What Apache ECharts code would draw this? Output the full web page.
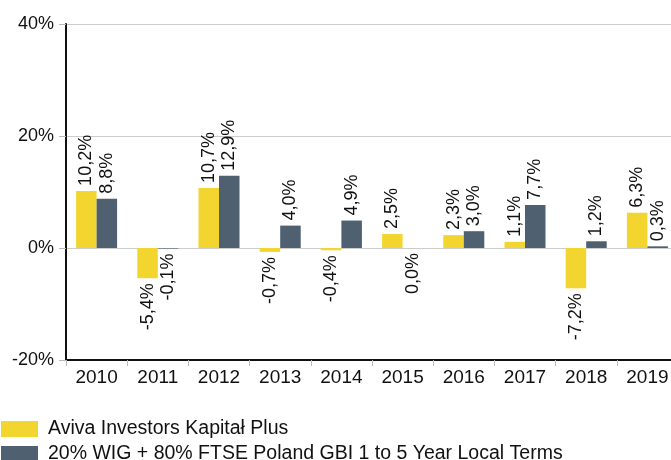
<!DOCTYPE html>
<html>
<head>
<meta charset="utf-8">
<script src="https://cdn.jsdelivr.net/npm/echarts@6/dist/echarts.min.js"></script>
<style>
  html, body { margin: 0; padding: 0; background: #fff; }
  #chart { width: 671px; height: 460px; }
</style>
</head>
<body>
<div id="chart"></div>
<script>
const years = ['2010', '2011', '2012', '2013', '2014', '2015', '2016', '2017', '2018', '2019']
const fundName = 'Aviva Investors Kapitał Plus'
const benchName = '20% WIG + 80% FTSE Poland GBI 1 to 5 Year Local Terms'
const fundValues = [10.2, -5.4, 10.7, -0.7, -0.4, 2.5, 2.3, 1.1, -7.2, 6.3]
const benchValues = [8.8, -0.1, 12.9, 4.0, 4.9, 0.0, 3.0, 7.7, 1.2, 0.3]
const yTicks = [-20, 0, 20, 40]

const fontFamily = "'Liberation Sans', Arial, sans-serif"

// 10.2 -> 10,2%
const fmt = v => v.toFixed(1).replace('.', ',') + '%'

// negative (and zero) bars get the label below, positive above
const toData = values => values.map(v => ({
  value: v,
  label: v <= 0
    ? { position: 'bottom', align: 'right' }
    : { position: 'top', align: 'left' }
}))

const labelStyle = {
  show: true,
  rotate: 90,
  distance: 5,
  verticalAlign: 'middle',
  fontSize: 18,
  fontFamily: fontFamily,
  color: '#111',
  formatter: p => fmt(p.value)
}

// one legend per row, stacked
const legendRow = (name, top) => ({
  left: 1,
  top: top,
  padding: 0,
  itemWidth: 37,
  itemHeight: 16,
  icon: 'rect',
  textStyle: { fontSize: 19.5, lineHeight: 18, fontFamily: fontFamily, color: '#111', padding: [0, 0, 0, 5] },
  data: [name]
})

const chart = echarts.init(document.getElementById('chart'))
chart.setOption({
  animation: false,
  grid: { left: 66, width: 612, top: 24, bottom: 100, outerBoundsMode: 'none' },
  legend: [legendRow(fundName, 419), legendRow(benchName, 444)],
  xAxis: {
    type: 'category',
    data: years,
    axisLine: { onZero: false, lineStyle: { color: '#111', width: 2 } },
    axisTick: { show: true, length: 6, lineStyle: { color: '#bbb' } },
    axisLabel: { fontSize: 19, fontFamily: fontFamily, color: '#111', margin: 8 }
  },
  yAxis: {
    type: 'value',
    min: yTicks[0],
    max: yTicks[yTicks.length - 1],
    interval: 20,
    axisLine: { show: true, lineStyle: { color: '#111', width: 2 } },
    axisTick: { show: true, length: 7, lineStyle: { color: '#bbb' } },
    axisLabel: { fontSize: 18, fontFamily: fontFamily, color: '#111', margin: 12, formatter: '{value}%' },
    splitLine: { show: true, lineStyle: { color: '#ccc', width: 1 } }
  },
  series: [
    {
      name: fundName,
      type: 'bar',
      data: toData(fundValues),
      itemStyle: { color: '#f2d52f' },
      barGap: '0%',
      barCategoryGap: '33%',
      label: labelStyle
    },
    {
      name: benchName,
      type: 'bar',
      data: toData(benchValues),
      itemStyle: { color: '#4f6070' },
      label: labelStyle
    }
  ]
})
</script>
</body>
</html>
